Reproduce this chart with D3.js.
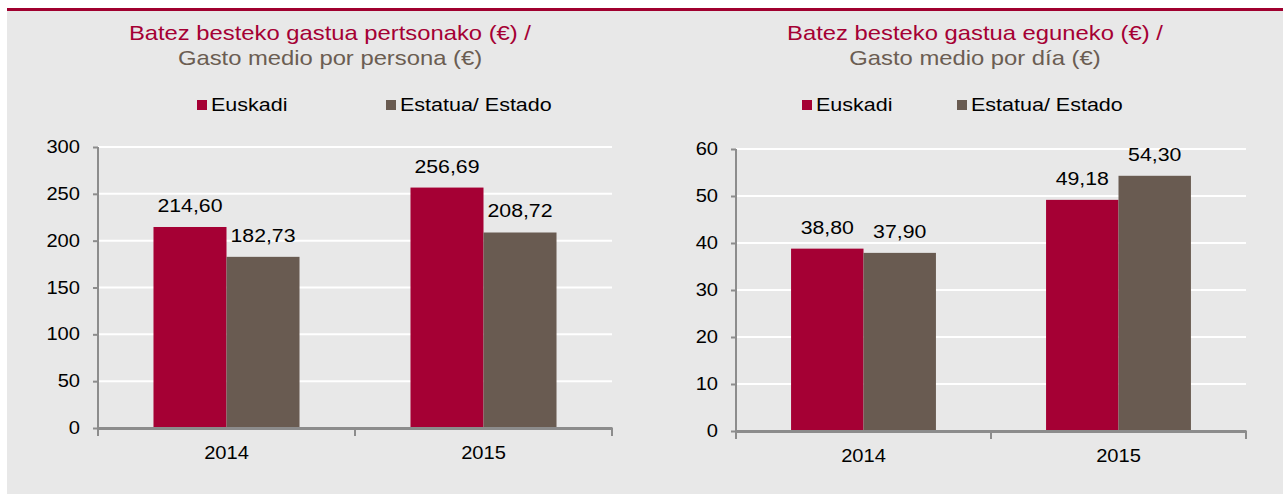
<!DOCTYPE html>
<html>
<head>
<meta charset="utf-8">
<script src="https://cdn.jsdelivr.net/npm/d3@7"></script>
<style>
body{margin:0;background:#fff;}
svg{display:block;font-family:Arial,"Liberation Sans",sans-serif;}
</style>
</head>
<body>
<div id="chart"></div>
<script>
// data
var years=["2014","2015"];
var seriesNames=["Euskadi","Estatua/ Estado"];
var personaEuskadi=[214.60,256.69];
var personaEstado=[182.73,208.72];
var diaEuskadi=[38.80,49.18];
var diaEstado=[37.90,54.30];
var personaTicks=[0,50,100,150,200,250,300];
var diaTicks=[0,10,20,30,40,50,60];

var W=1283,H=495;
var red="#a50034",brown="#695b51",axisc="#8c8c8c";
var colors=[red,brown];
var stretch=1.15; // source text is a bit wider than plain Arial

var svg=d3.select("#chart").append("svg").attr("width",W).attr("height",H);
svg.append("rect").attr("x",7).attr("y",10).attr("width",W-7).attr("height",484).attr("fill","#e8e8e8");
svg.append("rect").attr("x",7).attr("y",8).attr("width",W-7).attr("height",3).attr("fill","#a0002f");

var fmt=function(v){return v.toFixed(2).replace(".",",");};

function drawChart(o){
	var g=svg.append("g");
	var y=d3.scaleLinear().domain([0,d3.max(o.ticks)]).range([o.bottom,o.top]);
	var x0=d3.scaleBand().domain(years).range([o.left,o.right]).paddingInner(0).paddingOuter(0);
	var x1=d3.scaleBand().domain([0,1]).range([0,x0.bandwidth()]).paddingInner(0).paddingOuter(0.76);

	//titles
	g.append("text").attr("x",o.cx).attr("y",40).attr("text-anchor","middle")
		.attr("font-size",20.7).attr("fill",red).text(o.title1);
	g.append("text").attr("x",o.cx).attr("y",65).attr("text-anchor","middle")
		.attr("font-size",20.7).attr("fill","#6b5d52").text(o.title2);

	//legend
	for(var i=0;i<2;i++){
		g.append("rect").attr("x",o.legx[i]).attr("y",100).attr("width",10).attr("height",10).attr("fill",colors[i]);
		g.append("text").attr("x",o.legx[i]+14).attr("y",111.5).attr("text-anchor","start")
			.attr("font-size",18.7).attr("fill","#000").text(seriesNames[i]);
	}

	//grid
	g.selectAll("line.grid").data(o.ticks.slice(1)).enter().append("line").attr("class","grid")
		.attr("x1",o.left).attr("x2",o.right)
		.attr("y1",function(d){return y(d);}).attr("y2",function(d){return y(d);})
		.attr("stroke","#fff").attr("stroke-width",2);

	//bars
	var vals=[o.a,o.b];
	for(var s=0;s<2;s++){
		g.append("g").selectAll("rect").data(vals[s]).enter().append("rect")
			.attr("x",function(d,i){return x0(years[i])+x1(s);})
			.attr("y",function(d){return y(d);})
			.attr("width",x1.bandwidth())
			.attr("height",function(d){return y(0)-y(d);})
			.attr("fill",colors[s]);
		g.append("g").selectAll("text").data(vals[s]).enter().append("text")
			.attr("x",function(d,i){return x0(years[i])+x1(s)+x1.bandwidth()/2;})
			.attr("y",function(d){return y(d)-15;})
			.attr("text-anchor","middle").attr("font-size",18.5).attr("fill","#000")
			.text(fmt);
	}

	//y axis
	var ya=g.append("g").attr("transform","translate("+o.left+",0)")
		.call(d3.axisLeft(y).tickValues(o.ticks).tickSize(5).tickPadding(13));
	ya.select(".domain").attr("stroke",axisc).attr("stroke-width",2).attr("d","M0,"+(o.bottom+7)+"V"+o.top);
	ya.selectAll(".tick line").attr("stroke",axisc).attr("stroke-width",2);
	ya.selectAll(".tick text").attr("font-size",17.5).attr("fill","#000").attr("text-anchor","end")
		.attr("font-family","Arial,'Liberation Sans',sans-serif");

	//x axis
	var xa=g.append("g").attr("transform","translate(0,"+o.bottom+")")
		.call(d3.axisBottom(x0).tickSize(0).tickPadding(19));
	xa.select(".domain").attr("stroke",axisc).attr("stroke-width",3);
	xa.selectAll(".tick text").attr("font-size",17.5).attr("fill","#000").attr("text-anchor","middle")
		.attr("font-family","Arial,'Liberation Sans',sans-serif");
	var edges=years.map(function(d){return x0(d);}).concat([o.right]);
	g.selectAll("line.xt").data(edges).enter().append("line").attr("class","xt")
		.attr("x1",function(d){return d;}).attr("x2",function(d){return d;})
		.attr("y1",o.bottom).attr("y2",o.bottom+8)
		.attr("stroke",axisc).attr("stroke-width",2);
}

drawChart({left:98,right:612,top:147,bottom:428,ticks:personaTicks,a:personaEuskadi,b:personaEstado,
	cx:330,legx:[197,386],title1:"Batez besteko gastua pertsonako (€) /",title2:"Gasto medio por persona (€)"});
drawChart({left:736,right:1246,top:149,bottom:431,ticks:diaTicks,a:diaEuskadi,b:diaEstado,
	cx:975,legx:[802,957],title1:"Batez besteko gastua eguneko (€) /",title2:"Gasto medio por día (€)"});

//widen every label around its anchor point
svg.selectAll("text").each(function(){
	var anc=d3.select(this).attr("text-anchor");
	var ox=anc=="end"?"100%":(anc=="start"?"0%":"50%");
	d3.select(this).style("transform-box","fill-box").style("transform-origin",ox+" 50%")
		.style("transform","scaleX("+stretch+")");
});
</script>
</body>
</html>
